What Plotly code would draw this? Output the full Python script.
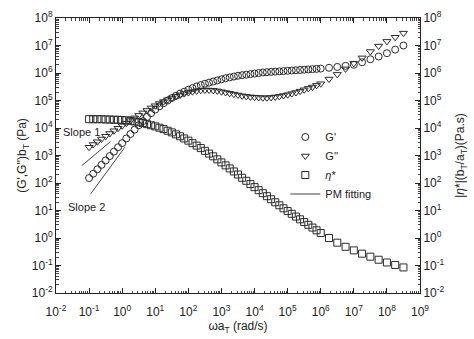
import plotly.graph_objects as go

# log10(omega * aT) grid of the data points
log_w = [-1.0, -0.875, -0.75, -0.625, -0.5, -0.375, -0.25, -0.125,
         0.0, 0.125, 0.25, 0.375, 0.5, 0.625, 0.75, 0.875,
         1.0, 1.125, 1.25, 1.375, 1.5, 1.625, 1.75, 1.875,
         2.0, 2.125, 2.25, 2.375, 2.5, 2.625, 2.75, 2.875,
         3.0, 3.125, 3.25, 3.375, 3.5, 3.625, 3.75, 3.875,
         4.0, 4.125, 4.25, 4.375, 4.5, 4.625, 4.75, 4.875,
         5.0, 5.125, 5.25, 5.375, 5.5, 5.625, 5.75, 5.875,
         6.0, 6.25, 6.5, 6.75, 7.0, 7.25, 7.5, 7.75, 8.0, 8.25, 8.5]

# log10 G' bT (Pa)
log_Gp = [2.18, 2.34, 2.50, 2.66, 2.82, 2.98, 3.14, 3.30,
          3.45, 3.62, 3.78, 3.94, 4.10, 4.25, 4.40, 4.54,
          4.67, 4.79, 4.90, 5.00, 5.09, 5.17, 5.25, 5.32,
          5.39, 5.45, 5.51, 5.56, 5.61, 5.65, 5.69, 5.73,
          5.77, 5.81, 5.84, 5.87, 5.90, 5.92, 5.94, 5.96,
          5.98, 6.00, 6.02, 6.03, 6.04, 6.05, 6.06, 6.07,
          6.08, 6.09, 6.10, 6.11, 6.12, 6.13, 6.14, 6.15,
          6.16, 6.19, 6.22, 6.26, 6.30, 6.39, 6.50, 6.60, 6.72, 6.85, 7.00]

# log10 G'' bT (Pa)
log_Gpp = [3.30, 3.40, 3.50, 3.60, 3.70, 3.80, 3.90, 3.99,
           4.08, 4.17, 4.27, 4.37, 4.46, 4.55, 4.64, 4.73,
           4.81, 4.89, 4.96, 5.03, 5.09, 5.15, 5.20, 5.25,
           5.29, 5.32, 5.35, 5.37, 5.38, 5.38, 5.37, 5.35,
           5.32, 5.29, 5.26, 5.23, 5.20, 5.17, 5.15, 5.13,
           5.12, 5.11, 5.10, 5.10, 5.11, 5.13, 5.15, 5.18,
           5.21, 5.25, 5.29, 5.34, 5.39, 5.44, 5.49, 5.55,
           5.61, 5.78, 5.95, 6.15, 6.35, 6.55, 6.78, 6.98, 7.15, 7.30, 7.45]

# log10 |eta*| bT/aT (Pa.s)
log_eta = [4.32, 4.32, 4.32, 4.32, 4.31, 4.31, 4.30, 4.30,
           4.29, 4.28, 4.26, 4.24, 4.21, 4.18, 4.14, 4.10,
           4.06, 4.01, 3.96, 3.90, 3.84, 3.77, 3.70, 3.62,
           3.54, 3.45, 3.36, 3.27, 3.17, 3.07, 2.97, 2.86,
           2.75, 2.64, 2.53, 2.42, 2.31, 2.19, 2.08, 1.96,
           1.85, 1.74, 1.63, 1.52, 1.41, 1.30, 1.19, 1.08,
           0.98, 0.88, 0.78, 0.68, 0.58, 0.48, 0.38, 0.28,
           0.18, 0.00, -0.17, -0.32, -0.45, -0.57, -0.68, -0.79, -0.89, -0.98, -1.07]

# PM fitting guide lines (log10 coordinates)
slope1_logx = [-1.22, -0.35]
slope1_logy = [2.63, 3.51]
slope2_logx = [-0.95, 0.08]
slope2_logy = [1.61, 3.30]

# Slope annotations (log10 coordinates)
slope_labels = ["Slope 1", "Slope 2"]
slope_label_logx = [-1.22, -1.08]
slope_label_logy = [3.85, 1.12]

tick_exps = list(range(-2, 10))
ytick_exps = list(range(-2, 9))

p = lambda a: [10 ** v for v in a]

ink = "#2a2a2a"
font_family = "Arial, Liberation Sans, sans-serif"

fig = go.Figure()
fig.add_trace(go.Scatter(x=p(log_w), y=p(log_Gp), mode="markers", name="G'",
                         marker=dict(symbol="circle-open", size=7, color=ink, line=dict(width=1))))
fig.add_trace(go.Scatter(x=p(log_w), y=p(log_Gpp), mode="markers", name="G''",
                         marker=dict(symbol="triangle-down-open", size=7, color=ink, line=dict(width=1))))
fig.add_trace(go.Scatter(x=p(log_w), y=p(log_eta), mode="markers", name="<i>η</i>*",
                         marker=dict(symbol="square-open", size=7, color=ink, line=dict(width=1))))
fig.add_trace(go.Scatter(x=p(slope1_logx) + [None] + p(slope2_logx),
                         y=p(slope1_logy) + [None] + p(slope2_logy),
                         mode="lines", name="PM fitting", line=dict(color="#444", width=1)))
# invisible trace to bind right axis
fig.add_trace(go.Scatter(x=[10 ** tick_exps[0]], y=[10 ** ytick_exps[0]], yaxis="y2",
                         mode="markers", marker=dict(opacity=0), showlegend=False, hoverinfo="skip"))

for t, lx, ly in zip(slope_labels, slope_label_logx, slope_label_logy):
    fig.add_annotation(x=lx, y=ly, text=t, showarrow=False,
                       font=dict(size=11, color="#222", family=font_family))

axis_common = dict(type="log", showgrid=False, zeroline=False, showline=True, linecolor="#222",
                   linewidth=1, ticks="inside", ticklen=5, tickcolor="#222",
                   tickfont=dict(size=12, color="#222", family=font_family),
                   minor=dict(ticks="inside", ticklen=2.5, tickcolor="#444", dtick="D1", showgrid=False))

fig.update_layout(
    width=474, height=339,
    margin=dict(l=56, r=53, t=9, b=45),
    paper_bgcolor="white", plot_bgcolor="white",
    font=dict(family=font_family, color="#222"),
    showlegend=True,
    legend=dict(x=0.63, y=0.62, xanchor="left", yanchor="top", bgcolor="rgba(0,0,0,0)",
                font=dict(size=11, family=font_family, color="#222"),
                itemwidth=30, tracegroupgap=0),
    xaxis=dict(**axis_common, range=[-2, 9], mirror="ticks", ticklabelstandoff=8,
               tickvals=[10 ** e for e in tick_exps],
               ticktext=[f"10<sup>{e}</sup>" for e in tick_exps],
               title=dict(text="ωa<sub>T</sub> (rad/s)", font=dict(size=12), standoff=2)),
    yaxis=dict(**axis_common, range=[-2, 8], mirror="ticks",
               tickvals=[10 ** e for e in ytick_exps],
               ticktext=[f"10<sup>{e}</sup>" for e in ytick_exps],
               title=dict(text="(G',G'')b<sub>T</sub> (Pa)", font=dict(size=12), standoff=2)),
    yaxis2=dict(**axis_common, range=[-2, 8], overlaying="y", side="right",
                tickvals=[10 ** e for e in ytick_exps],
                ticktext=[f"10<sup>{e}</sup>" for e in ytick_exps],
                title=dict(text="|<i>η</i>*|(b<sub>T</sub>/a<sub>T</sub>)(Pa.s)", font=dict(size=12), standoff=12)),
)

fig.write_html("out.html")
